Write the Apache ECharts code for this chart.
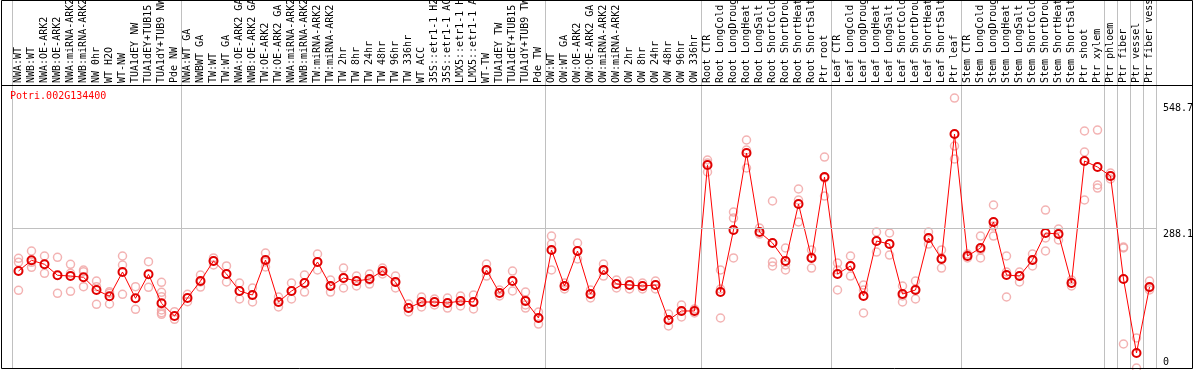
<!DOCTYPE html>
<html><head><meta charset="utf-8">
<script src="https://cdn.jsdelivr.net/npm/echarts@6/dist/echarts.min.js"></script>
<style>html,body{margin:0;padding:0;background:#fff}#c{width:1194px;height:370px}</style>
</head><body><div id="c"></div>
<script>
const geneId = 'Potri.002G134400';

const categories = [
  'NWA:WT','NWB:WT','NWA:OE-ARK2','NWB:OE-ARK2','NWA:miRNA-ARK2','NWB:miRNA-ARK2','NW 0hr','WT H2O','WT-NW','TUA1dEY NW','TUA1dEY+TUB15 NW','TUA1dY+TUB9 NW','Pde NW',
  'NWA:WT GA','NWBWT GA','TW:WT','TW:WT GA','NWA:OE-ARK2 GA','NWB:OE-ARK2 GA','TW:OE-ARK2','TW:OE-ARK2 GA','NWA:miRNA-ARK2 GA','NWB:miRNA-ARK2 GA','TW:miRNA-ARK2','TW:miRNA-ARK2',
  'TW 2hr','TW 8hr','TW 24hr','TW 48hr','TW 96hr','TW 336hr','WT ACC','35S::etr1-1 H2O','35S::etr1-1 ACC','LMX5::etr1-1 H2O','LMX5::etr1-1 ACC','WT-TW','TUA1dEY TW','TUA1dEY+TUB15 TW','TUA1dY+TUB9 TW','Pde TW',
  'OW:WT','OW:WT GA','OW:OE-ARK2','OW:OE-ARK2 GA','OW:miRNA-ARK2','OW:miRNA-ARK2','OW 2hr','OW 8hr','OW 24hr','OW 48hr','OW 96hr','OW 336hr',
  'Root CTR','Root LongCold','Root LongDrought','Root LongHeat','Root LongSalt','Root ShortCold','Root ShortDrought','Root ShortHeat','Root ShortSalt','Ptr root',
  'Leaf CTR','Leaf LongCold','Leaf LongDrought','Leaf LongHeat','Leaf LongSalt','Leaf ShortCold','Leaf ShortDrought','Leaf ShortHeat','Leaf ShortSalt','Ptr leaf',
  'Stem CTR','Stem LongCold','Stem LongDrought','Stem LongHeat','Stem LongSalt','Stem ShortCold','Stem ShortDrought','Stem ShortHeat','Stem ShortSalt','Ptr shoot','Ptr xylem',
  'Ptr phloem','Ptr fiber','Ptr vessel','Ptr fiber vessel'
];

const meanValues = [
  200.0, 222.1, 213.9, 191.2, 189.7, 187.1, 160.9, 147.9, 198.0, 143.7, 193.2, 133.4, 107.2,
  144.4, 179.4, 220.7, 193.9, 158.8, 150.5, 222.7, 136.1, 158.8, 175.3, 218.6, 169.1, 185.6, 179.4, 183.5, 200.0, 177.4, 123.7, 136.1, 136.1, 134.0, 138.2, 136.1, 202.1, 154.7, 179.4, 138.2, 103.1,
  243.4, 169.1, 241.3, 152.6, 202.1, 173.2, 171.2, 169.1, 171.2, 99.0, 117.6, 117.6,
  418.6, 156.7, 284.6, 443.4, 280.5, 257.8, 220.7, 338.2, 226.9, 393.9,
  193.9, 210.4, 148.5, 261.9, 255.7, 152.6, 160.9, 268.1, 224.8, 482.6,
  231.0, 247.5, 301.1, 191.8, 189.7, 222.7, 278.4, 276.3, 175.3, 426.9, 414.5,
  396.0, 183.5, 30.9, 167.0
];

const replicateValues = [
  [226.2, 218.0, 160.2], [241.3, 218.0, 207.7], [231.0, 195.3], [228.3, 154.1], [213.9, 195.3, 158.2],
  [202.1, 198.6, 167.7], [179.4, 167.7, 131.4], [157.4, 154.1, 132.0], [231.0, 212.4, 152.0], [167.7, 121.1],
  [219.2, 166.4], [176.7, 156.1, 147.0, 119.6, 114.0, 110.7], [116.1, 100.4],
  [152.0, 136.7], [191.8, 177.4, 167.0], [226.9, 220.7, 212.4], [210.4, 193.9, 177.4], [175.3, 158.8, 142.3],
  [165.0, 150.5, 136.1], [237.2, 218.6, 208.3], [146.4, 136.1, 125.8], [175.3, 158.8, 142.3], [191.8, 175.3, 156.7],
  [235.1, 218.6, 202.1], [181.5, 169.1, 156.7], [206.2, 185.6, 165.0], [189.7, 179.4, 169.1], [193.9, 181.5, 173.2],
  [206.2, 200.0, 193.9], [189.7, 177.4, 165.0], [132.0, 123.7, 115.5], [146.4, 136.1, 125.8], [142.3, 136.1, 129.9],
  [144.4, 134.0, 123.7], [148.5, 138.2, 127.9], [150.5, 136.1, 121.7], [214.5, 202.1, 189.7], [160.9, 154.7, 148.5],
  [200.0, 179.4, 158.8], [156.7, 140.2, 129.9, 123.7], [115.5, 103.1, 90.7],
  [272.2, 255.7, 202.1], [175.3, 169.1, 162.9], [257.8, 241.3, 224.8], [160.9, 152.6, 144.4], [214.5, 202.1, 189.7],
  [181.5, 173.2, 165.0], [179.4, 171.2, 162.9], [175.3, 169.1, 162.9], [179.4, 171.2, 162.9], [111.4, 99.0, 86.6],
  [129.9, 117.6, 105.2], [121.7, 117.6, 113.4],
  [429.0, 422.8, 404.2], [202.1, 162.9, 103.1], [321.7, 309.3, 226.9], [470.2, 449.6, 412.5], [288.7, 276.3],
  [344.4, 218.6, 210.4], [247.5, 212.4, 202.1], [369.2, 346.5, 301.1], [243.4, 228.9, 206.2], [435.1, 391.8, 354.7],
  [216.5, 202.1, 160.9], [231.0, 210.4, 189.7], [171.2, 160.9, 113.4], [280.5, 261.9, 239.2], [278.4, 255.7, 233.0],
  [169.1, 148.5, 136.1], [179.4, 162.9, 142.3], [280.5, 268.1, 255.7], [243.4, 226.9, 206.2], [556.8, 457.8, 431.0],
  [235.1, 231.0, 226.9], [272.2, 243.4, 226.9], [336.2, 292.8, 272.2], [231.0, 198.0, 146.4], [198.0, 189.7, 177.4],
  [235.1, 222.7, 210.4], [325.8, 268.1, 241.3], [286.7, 276.3, 264.0], [181.5, 175.3, 169.1], [488.8, 445.5, 346.5],
  [490.8, 377.4, 371.2],
  [402.1, 396.0, 389.8], [249.5, 247.5, 49.5], [61.9, 0.0], [179.4, 165.0, 160.9]
];

// first category index of each group (a separator line is drawn at its left edge)
const groupStartIndex = [0, 13, 41, 53, 63, 73, 84, 85, 86, 87];
const yTickValues = [0, 288.1, 548.7];
const yMax = 581.6;

const FONT = 'DejaVu Sans Mono';
const repPoints = [];
replicateValues.forEach((arr, i) => arr.forEach(v => repPoints.push([i, v])));
const meanPoints = meanValues.map((v, i) => [i, v]);
const sepSet = new Set(groupStartIndex);

const chart = echarts.init(document.getElementById('c'), null, {renderer: 'canvas'});
chart.setOption({
  animation: false,
  title: {
    text: geneId, left: 10, top: 91, padding: 0,
    textStyle: {color: '#ff0000', fontFamily: FONT, fontSize: 10, fontWeight: 'normal'}
  },
  grid: [
    {left: 12, right: 38, top: 86, bottom: 2, outerBoundsMode: 'none', containLabel: false},
    {left: 12, right: 38, top: 0, height: 86, outerBoundsMode: 'none', containLabel: false}
  ],
  xAxis: [
    {
      gridIndex: 0, type: 'category', data: categories, position: 'top',
      axisLine: {show: false}, axisTick: {show: false},
      axisLabel: {interval: 0, rotate: 90, margin: 3, fontFamily: FONT, fontSize: 10, color: '#000'},
      splitLine: {show: true, interval: (i) => sepSet.has(i), lineStyle: {color: '#c0c0c0', width: 1}}
    },
    {
      gridIndex: 1, type: 'category', data: categories,
      axisLine: {show: false}, axisTick: {show: false}, axisLabel: {show: false},
      splitLine: {show: true, interval: (i) => sepSet.has(i), lineStyle: {color: '#c0c0c0', width: 1}}
    }
  ],
  yAxis: [
    {
      gridIndex: 0, type: 'value', position: 'right', min: 0, max: yMax,
      axisLine: {show: false}, axisTick: {show: false}, splitLine: {show: false},
      axisLabel: {
        customValues: yTickValues, margin: 7, verticalAlign: 'middle',
        formatter: (v) => (v === 0 ? '{lo|' + v + '}' : '{hi|' + v + '}'),
        rich: {
          lo: {padding: [0, 0, 12, 0], fontFamily: FONT, fontSize: 10, color: '#000'},
          hi: {padding: [12, 0, 0, 0], fontFamily: FONT, fontSize: 10, color: '#000'}
        }
      }
    },
    {gridIndex: 1, type: 'value', show: false}
  ],
  graphic: [
    {type: 'rect', silent: true, z: 100, shape: {x: 1.5, y: 0.5, width: 1191, height: 368},
     style: {fill: 'none', stroke: '#000', lineWidth: 1}},
    {type: 'line', silent: true, z: 100, shape: {x1: 1, y1: 85.5, x2: 1193, y2: 85.5},
     style: {stroke: '#000', lineWidth: 1}}
  ],
  series: [
    {
      type: 'scatter', xAxisIndex: 0, yAxisIndex: 0, data: repPoints,
      symbol: 'circle', symbolSize: 8, z: 2, silent: true,
      itemStyle: {color: 'rgba(0,0,0,0)', borderColor: '#f0a0a0', borderWidth: 1.5},
      markLine: {
        silent: true, symbol: 'none', label: {show: false},
        lineStyle: {color: '#c0c0c0', width: 1, type: 'solid'},
        data: [{yAxis: yTickValues[1]}]
      }
    },
    {
      type: 'line', xAxisIndex: 0, yAxisIndex: 0, data: meanPoints,
      symbol: 'circle', symbolSize: 8, showAllSymbol: true, z: 3, silent: true,
      lineStyle: {color: '#ff0000', width: 1},
      itemStyle: {color: 'rgba(0,0,0,0)', borderColor: '#e00000', borderWidth: 2}
    }
  ]
});
</script>
</body></html>
